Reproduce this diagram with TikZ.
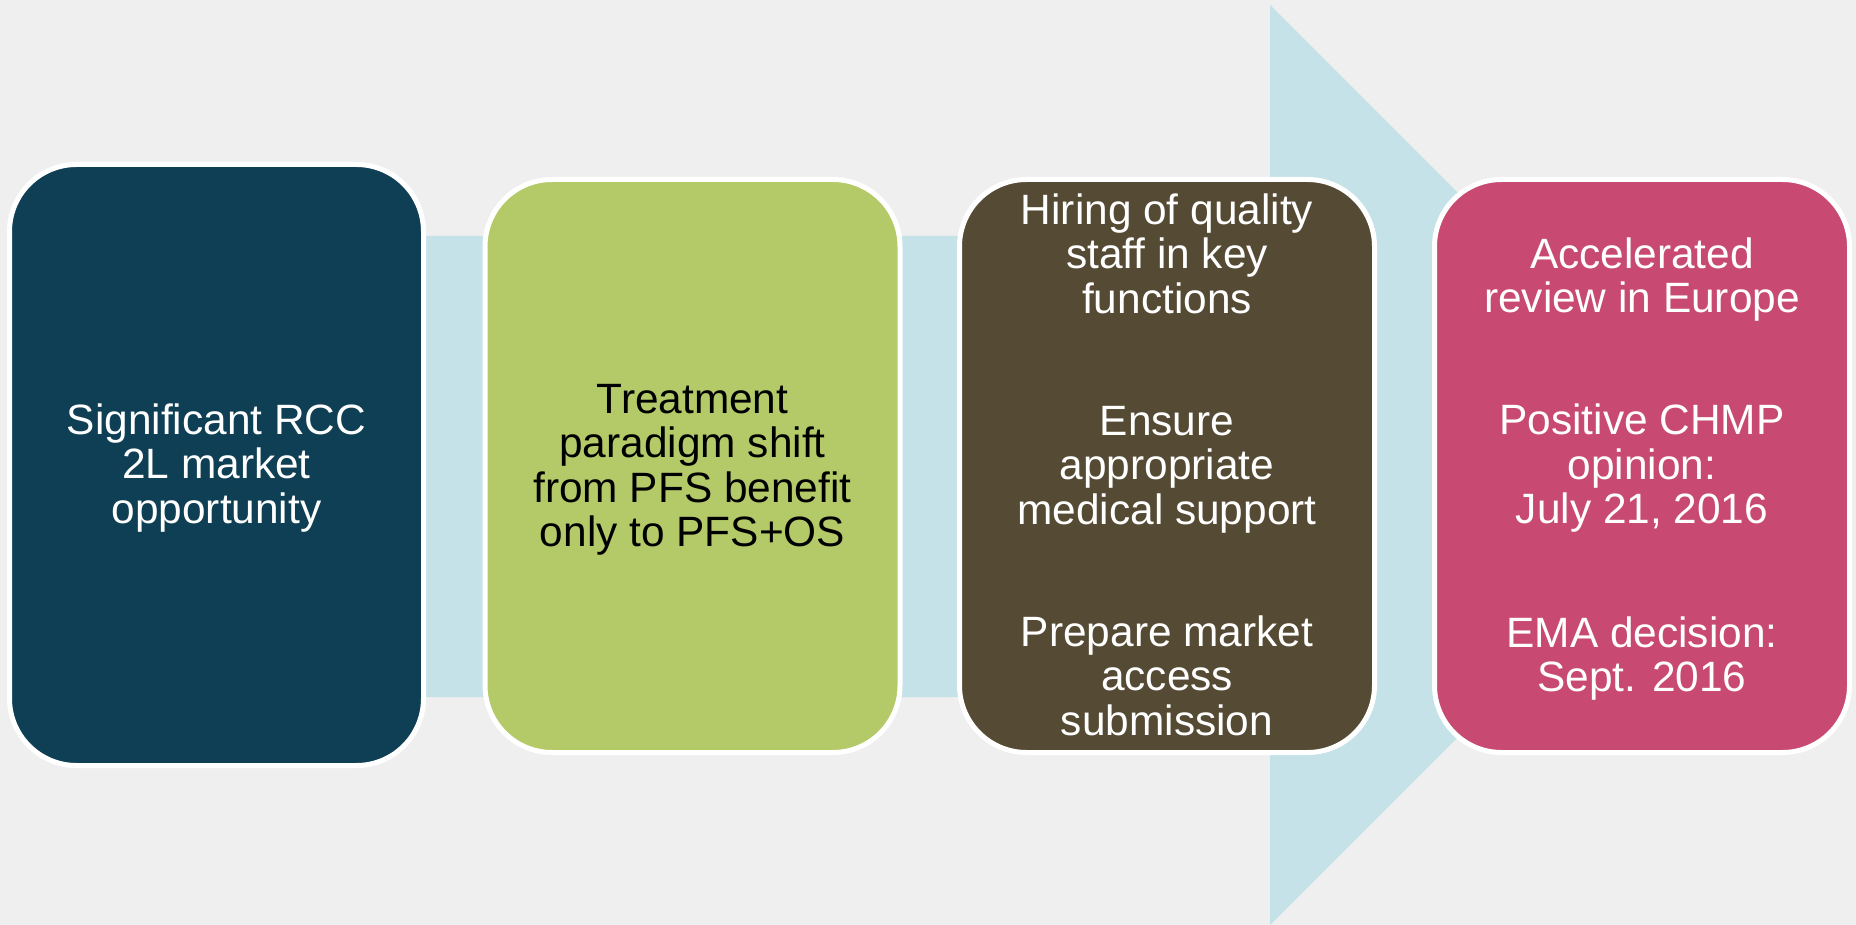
\documentclass[tikz,border=0pt]{standalone}
\usepackage{fontspec}
\setmainfont{Liberation Sans}
\definecolor{bgc}{HTML}{EFEFEF}
\definecolor{bandc}{HTML}{C5E2E8}
\definecolor{cnavy}{HTML}{0E3F54}
\definecolor{cgreen}{HTML}{B4C968}
\definecolor{cbrown}{HTML}{554A33}
\definecolor{cpink}{HTML}{C84A72}
\newcommand\tstrut{\rule{0pt}{32pt}}
\begin{document}
\begin{tikzpicture}[x=1pt,y=-1pt,
  box/.style={draw=white, line width=5pt, rounded corners=67pt, inner sep=0pt,
    minimum width=415pt, minimum height=573pt},
  txt/.style={anchor=north, inner sep=0pt, align=center, text=white,
    font=\fontsize{42.4pt}{44.5pt}\selectfont}]
\fill[bgc] (0,0) rectangle (1856,925);
\useasboundingbox (0,0) rectangle (1856,925);
% big arrow
\fill[bandc] (200,236) -- (1270,236) -- (1270,5) -- (1730,465) -- (1270,925)
  -- (1270,697) -- (200,697) -- cycle;
% boxes
\node[box, fill=cnavy, minimum width=414pt, minimum height=601pt] (b1) at (216.5,465) {};
\node[box, fill=cgreen] (b2) at (692.5,466) {};
\node[box, fill=cbrown] (b3) at (1167,466) {};
\node[box, fill=cpink] (b4) at (1642,466) {};
% texts
\node[txt] (t1) at (216.5,402) {\tstrut Significant RCC\\2L market\\opportunity};
\node[txt, text=black] (t2) at (692.5,381) {\tstrut Treatment\\paradigm shift\\from PFS benefit\\only to PFS+OS};
\node[txt] (t3) at (1167,192) {\tstrut Hiring of quality\\staff in key\\functions\\[77.5pt]Ensure\\appropriate\\medical support\\[77.5pt]Prepare market\\access\\submission};
\node[txt] (t4) at (1642,236) {\tstrut Accelerated\\review in Europe\\[77.5pt]Positive CHMP\\opinion:\\July 21, 2016\\[79pt]EMA decision:\\Sept. 2016};
\end{tikzpicture}
\end{document}
